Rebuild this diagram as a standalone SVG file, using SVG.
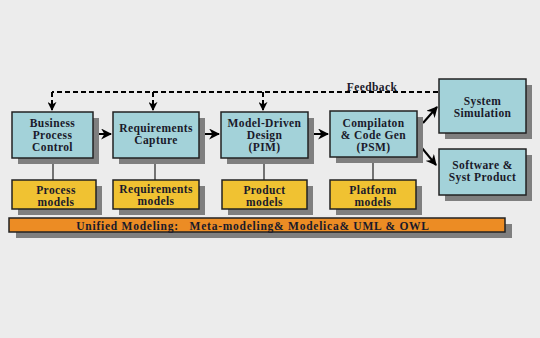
<svg xmlns="http://www.w3.org/2000/svg" width="540" height="338" viewBox="0 0 540 338">
<defs>
<marker id="ah" viewBox="0 0 10 10" refX="9" refY="5" markerWidth="5.5" markerHeight="5.5" orient="auto" markerUnits="strokeWidth">
<path d="M0,0 L10,5 L0,10 L3,5 Z" fill="#000"/>
</marker>
<marker id="ahd" viewBox="0 0 10 10" refX="9" refY="5" markerWidth="4.5" markerHeight="4.5" orient="auto" markerUnits="strokeWidth">
<path d="M0,0 L10,5 L0,10 L3,5 Z" fill="#000"/>
</marker>
</defs>
<style>
.sh{fill:#7f7f7f}
.bl{fill:#a3d2d9;stroke:#222;stroke-width:1.5}
.ye{fill:#f0c232;stroke:#222;stroke-width:1.5}
.or{fill:#ec8c24;stroke:#222;stroke-width:1.5}
.t{font-family:"Liberation Serif","Times New Roman",serif;font-weight:bold;font-size:11.5px;fill:#1a1a2a;text-anchor:middle;letter-spacing:0.4px}
.c{stroke:#000;stroke-width:2;fill:none}
.d{stroke:#000;stroke-width:2;fill:none;stroke-dasharray:5,3}
.v{stroke:#222;stroke-width:1.2;fill:none}
</style>
<rect width="540" height="338" fill="#ececec"/>
<g id="connectors">
<path class="d" d="M438,92 H52"/>
<path class="d" d="M52,92 V110" marker-end="url(#ahd)"/>
<path class="d" d="M153,92 V110" marker-end="url(#ahd)"/>
<path class="d" d="M263,92 V110" marker-end="url(#ahd)"/>
<path class="c" d="M93,134 H111" marker-end="url(#ah)"/>
<path class="c" d="M199,134 H219" marker-end="url(#ah)"/>
<path class="c" d="M308,134 H328" marker-end="url(#ah)"/>
<path class="c" d="M423,123 L437,107" marker-end="url(#ah)"/>
<path class="c" d="M417,142 L436,165" marker-end="url(#ah)"/>
<path class="v" d="M53,158 V180"/>
<path class="v" d="M155,158 V180"/>
<path class="v" d="M264,158 V180"/>
<path class="v" d="M373,157 V180"/>
</g>
<text class="t" x="372" y="91">Feedback</text>
<g id="bpc"><rect class="sh" x="18" y="118" width="81" height="46"/><rect class="bl" x="12" y="112" width="81" height="46"/>
<text class="t" x="52.5" y="127">Business</text><text class="t" x="52.5" y="139">Process</text><text class="t" x="52.5" y="151">Control</text></g>
<g id="reqcap"><rect class="sh" x="119" y="118" width="86" height="46"/><rect class="bl" x="113" y="112" width="86" height="46"/>
<text class="t" x="156" y="132">Requirements</text><text class="t" x="156" y="144">Capture</text></g>
<g id="mdd"><rect class="sh" x="227" y="118" width="87" height="46"/><rect class="bl" x="221" y="112" width="87" height="46"/>
<text class="t" x="264.5" y="127">Model-Driven</text><text class="t" x="264.5" y="139">Design</text><text class="t" x="264.5" y="151">(PIM)</text></g>
<g id="comp"><rect class="sh" x="336" y="117" width="87" height="46"/><rect class="bl" x="330" y="111" width="87" height="46"/>
<text class="t" x="373.5" y="127">Compilaton</text><text class="t" x="373.5" y="139">&amp; Code Gen</text><text class="t" x="373.5" y="151">(PSM)</text></g>
<g id="sim"><rect class="sh" x="445" y="85" width="87" height="54"/><rect class="bl" x="439" y="79" width="87" height="54"/>
<text class="t" x="482.5" y="105">System</text><text class="t" x="482.5" y="117">Simulation</text></g>
<g id="sw"><rect class="sh" x="445" y="155" width="87" height="46"/><rect class="bl" x="439" y="149" width="87" height="46"/>
<text class="t" x="482.5" y="169">Software &amp;</text><text class="t" x="482.5" y="181">Syst Product</text></g>
<g id="pm"><rect class="sh" x="18" y="186" width="84" height="29"/><rect class="ye" x="12" y="180" width="84" height="29"/>
<text class="t" x="56" y="194">Process</text><text class="t" x="56" y="206">models</text></g>
<g id="rm"><rect class="sh" x="119" y="186" width="86" height="29"/><rect class="ye" x="113" y="180" width="86" height="29"/>
<text class="t" x="156" y="193">Requirements</text><text class="t" x="156" y="205">models</text></g>
<g id="prm"><rect class="sh" x="228" y="186" width="85" height="29"/><rect class="ye" x="222" y="180" width="85" height="29"/>
<text class="t" x="264.5" y="194">Product</text><text class="t" x="264.5" y="206">models</text></g>
<g id="plm"><rect class="sh" x="336" y="186" width="86" height="29"/><rect class="ye" x="330" y="180" width="86" height="29"/>
<text class="t" x="373" y="194">Platform</text><text class="t" x="373" y="206">models</text></g>
<g id="um"><rect class="sh" x="16" y="224" width="496" height="14"/><rect class="or" x="9" y="218" width="496" height="14"/>
<text class="t" x="253" y="229.5" style="letter-spacing:0.75px" xml:space="preserve">Unified Modeling:   Meta-modeling&amp; Modelica&amp; UML &amp; OWL</text></g>
</svg>
